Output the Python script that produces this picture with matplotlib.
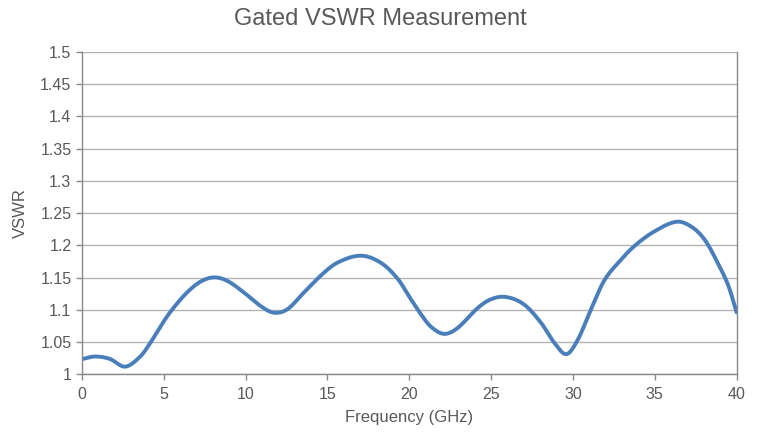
import matplotlib
matplotlib.use("Agg")
import matplotlib.pyplot as plt
import numpy as np

freq_ghz = [0.0, 0.8, 1.7, 2.65, 3.57, 4.18, 5.0, 5.6, 6.43, 7.24, 8.06, 8.88, 9.9,
            10.92, 11.73, 12.55, 13.57, 14.59, 15.6, 17.04, 18.27, 19.3, 20.1, 20.72,
            21.33, 22.14, 22.96, 24.19, 25.0, 25.9, 27.0, 28.05, 28.87, 29.6, 30.3,
            31.1, 31.9, 32.8, 33.8, 35.0, 36.33, 37.25, 38.07, 38.88, 39.5, 40.0]
vswr = [1.0235, 1.0276, 1.024, 1.0119, 1.0276, 1.0486, 1.082, 1.103, 1.127, 1.1436,
        1.1504, 1.145, 1.127, 1.106, 1.0956, 1.1008, 1.127, 1.153, 1.173, 1.184,
        1.173, 1.148, 1.1165, 1.093, 1.0737, 1.0627, 1.072, 1.103, 1.1165, 1.120,
        1.1086, 1.080, 1.0486, 1.0313, 1.0538, 1.1008, 1.145, 1.174, 1.2, 1.222,
        1.2367, 1.2288, 1.208, 1.171, 1.137, 1.096]
x_ticks = [0, 5, 10, 15, 20, 25, 30, 35, 40]
y_ticks = [1, 1.05, 1.1, 1.15, 1.2, 1.25, 1.3, 1.35, 1.4, 1.45, 1.5]
y_tick_labels = ["1", "1.05", "1.1", "1.15", "1.2", "1.25", "1.3", "1.35", "1.4", "1.45", "1.5"]

plt.rcParams['font.family'] = ['Liberation Sans', 'DejaVu Sans']
txt = '#595959'

# smooth curve: cubic Hermite in x with finite-difference tangents
x = np.array(freq_ghz); y = np.array(vswr)
n = len(x)
m = np.zeros(n)
m[0] = (y[1] - y[0]) / (x[1] - x[0])
m[-1] = (y[-1] - y[-2]) / (x[-1] - x[-2])
for i in range(1, n - 1):
    m[i] = (y[i+1] - y[i-1]) / (x[i+1] - x[i-1])
xs, ys = [], []
for i in range(n - 1):
    h = x[i+1] - x[i]
    t = np.linspace(0, 1, 25, endpoint=False)
    h00 = 2*t**3 - 3*t**2 + 1
    h10 = t**3 - 2*t**2 + t
    h01 = -2*t**3 + 3*t**2
    h11 = t**3 - t**2
    xs.extend(x[i] + t*h)
    ys.extend(h00*y[i] + h10*h*m[i] + h01*y[i+1] + h11*h*m[i+1])
xs.append(x[-1]); ys.append(y[-1])

fig = plt.figure(figsize=(7.61, 4.36), dpi=100)
ax = fig.add_axes([0.1075, 0.1415, 0.8605, 0.7392])
ax.plot(xs, ys, color='#4A7EBB', lw=2.8, solid_capstyle='round')
ax.set_xlim(0, 40)
ax.set_ylim(1, 1.5)
ax.set_xticks(x_ticks)
ax.set_yticks(y_ticks)
ax.set_yticklabels(y_tick_labels)
ax.grid(axis='y', color='#B3B3B3', lw=1.0)
ax.set_axisbelow(True)
for s in ['left', 'bottom', 'right']:
    ax.spines[s].set_color('#898989')
    ax.spines[s].set_linewidth(1.0)
ax.spines['top'].set_visible(False)
ax.tick_params(axis='both', colors='#898989', labelcolor=txt, labelsize=11.5, length=4, width=1)
ax.tick_params(axis='x', pad=5)
ax.set_xlabel('Frequency (GHz)', color=txt, fontsize=12, labelpad=6)
ax.set_ylabel('VSWR', color=txt, fontsize=12, labelpad=9)
fig.text(0.5, 0.957, 'Gated VSWR Measurement', ha='center', va='center', color=txt, fontsize=17)
fig.savefig('out.png', dpi=100)
